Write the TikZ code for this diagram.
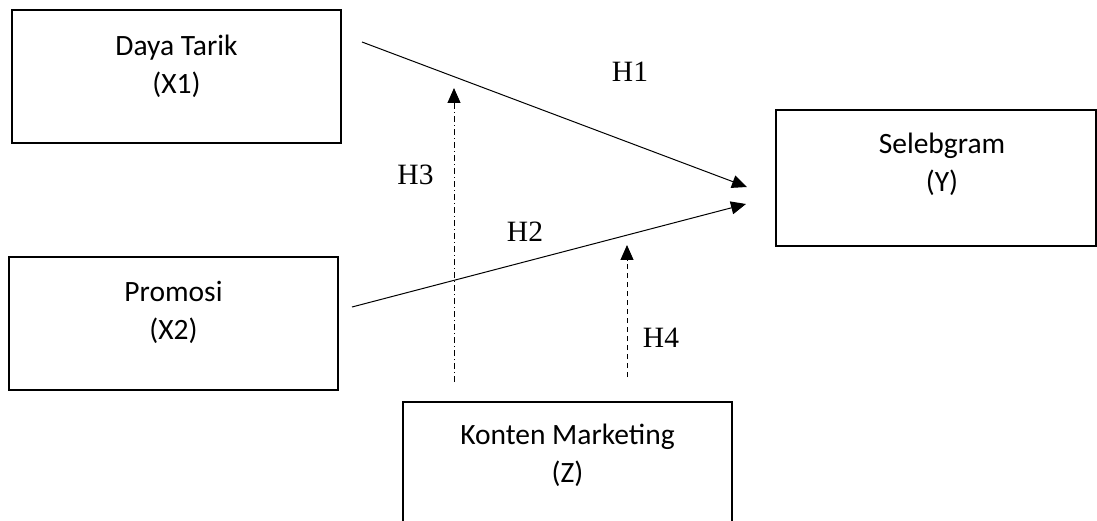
\documentclass[tikz,border=0pt]{standalone}
\usepackage{fontspec}
\setmainfont{Carlito}
\newfontfamily\hfont{Liberation Serif}
\usetikzlibrary{arrows.meta,positioning}

\tikzset{
  var/.style={draw, line width=2pt, minimum width=329pt, minimum height=133pt, inner sep=0pt},
  vartext/.style={inner sep=0pt, align=center, anchor=north, font=\fontsize{29.5}{38}\selectfont},
  hyp/.style={inner sep=0pt, font=\hfont\fontsize{29.5}{34}\selectfont},
  path/.style={line width=1pt, -{Triangle[length=15pt,width=13pt]}},
}

\begin{document}
\begin{tikzpicture}[x=1pt, y=-1pt]
\useasboundingbox (0, 0) rectangle (1097, 521);

\draw (176.5, 76.5) node[var] (x1) {};
\draw (173.5, 323.5) node[var] (x2) {};
\draw (936, 178) node[var, minimum width=320pt, minimum height=136pt] (y) {};
\draw (567.5, 470) node[var, minimum height=136pt] (z) {};

\node[vartext, below=26pt of x1.north] (x1t) {Daya Tarik\\(X1)};
\node[vartext, below=25pt of x2.north] (x2t) {Promosi\\(X2)};
\node[vartext, below=24pt of y.north, xshift=6pt] (yt) {Selebgram\\(Y)};
\node[vartext, below=23pt of z.north] (zt) {Konten Marketing\\(Z)};

\coordinate (h1s) at (362, 42);
\coordinate (h1e) at (747, 187);
\coordinate (h2s) at (352, 307);
\coordinate (h2e) at (746, 204);
\coordinate (h3s) at (454, 382);
\coordinate (h3e) at (454, 88);
\coordinate (h4s) at (627, 377);
\coordinate (h4e) at (627, 245);

\draw[path] (h1s) -- (h1e);
\draw[path] (h2s) -- (h2e);
\draw[path, dash pattern=on 6pt off 3pt on 1pt off 3pt] (h3s) -- (h3e);
\draw[path, dash pattern=on 5pt off 4pt] (h4s) -- (h4e);

\draw (630, 72) node[hyp] (h1) {H1};
\draw (525, 232) node[hyp] (h2) {H2};
\draw (415.5, 175) node[hyp] (h3) {H3};
\draw (661, 338) node[hyp] (h4) {H4};

\end{tikzpicture}
\end{document}
